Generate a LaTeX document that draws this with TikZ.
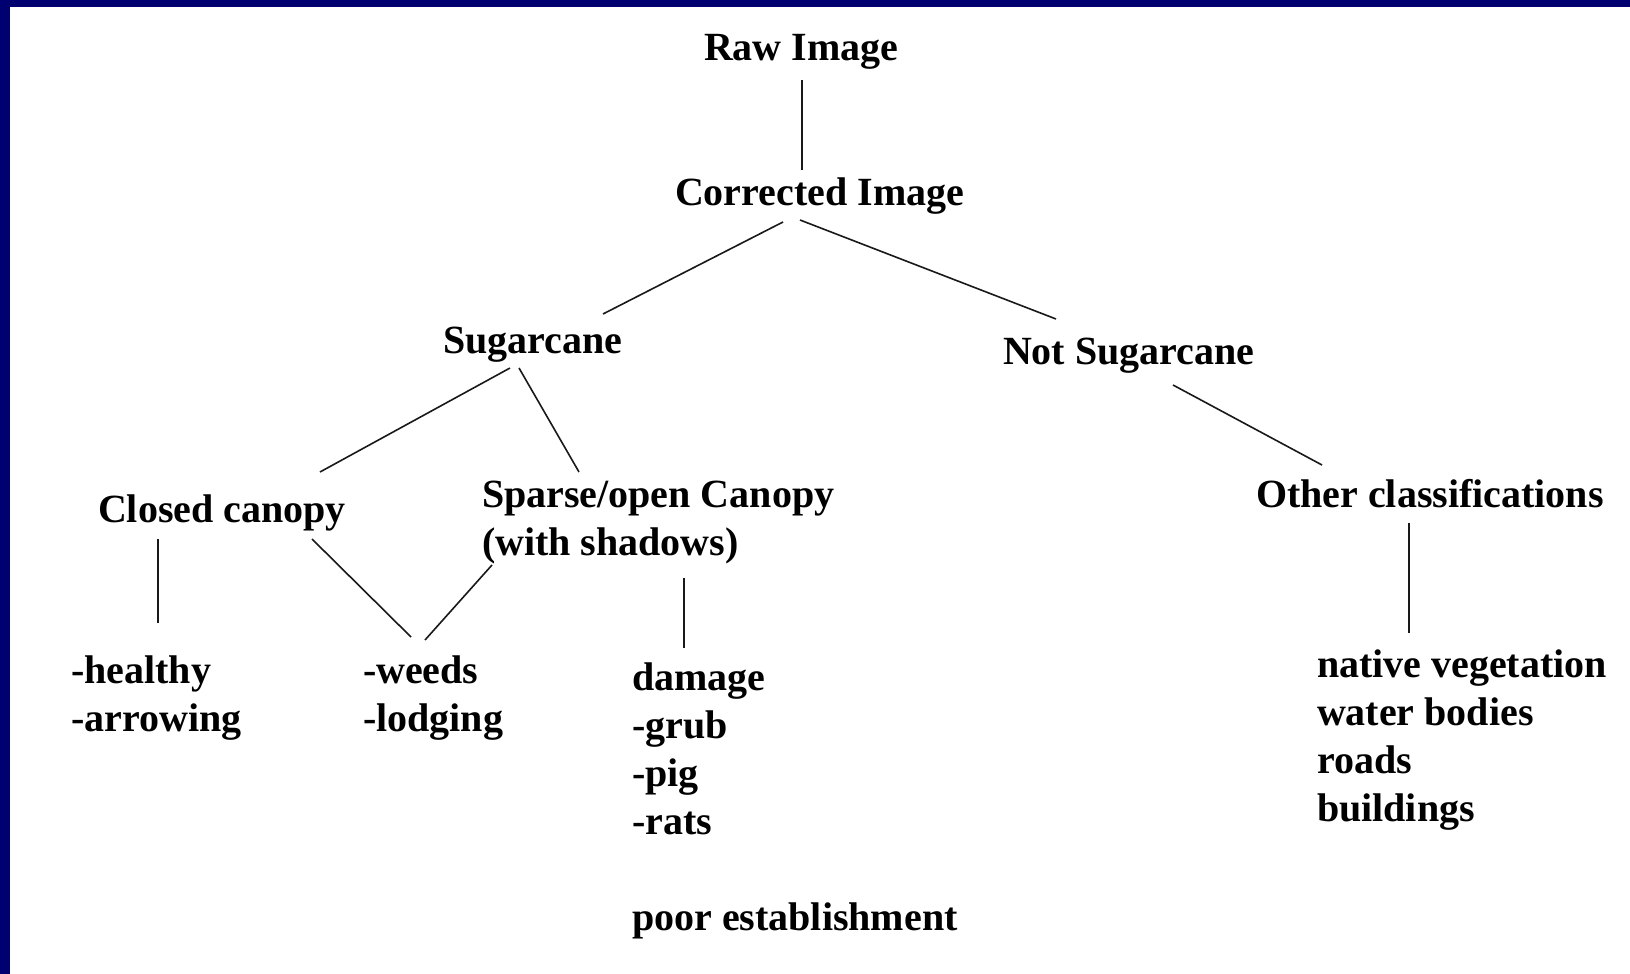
\documentclass[tikz,border=0pt]{standalone}
\usepackage{fontspec}
\setmainfont{Liberation Serif}
\usepackage{tikz}
\usetikzlibrary{positioning,calc}
\usepackage{xcolor}
\definecolor{slideframe}{RGB}{0,0,112}
\definecolor{treeline}{RGB}{25,25,25}

\begin{document}
\begin{tikzpicture}[
    x=1pt, y=-1pt,
    lbl/.style={anchor=base west, inner sep=0pt, outer sep=0pt, align=left,
                font=\fontsize{40}{48}\selectfont\bfseries},
    link/.style={treeline, line width=1.6pt}
]

\useasboundingbox (0,0) rectangle (1630,974);
\fill[white] (0,0) rectangle (1630,974);
\fill[slideframe] (0,0) rectangle (10,974);
\fill[slideframe] (0,0) rectangle (1630,7);

% multi-line labels sit on the baseline of their last line
\node[lbl] (raw) at (704,60) {Raw Image};
\node[lbl] (corr) at (675,205) {Corrected Image};

\node[lbl] (sugar) at (443,353) {Sugarcane};
\node[lbl] (notsugar) at (1003,364) {Not Sugarcane};

\node[lbl] (closed) at (98,522) {Closed canopy};
\node[lbl] (sparse) at (482,555) {Sparse/open Canopy\\(with shadows)};
\node[lbl] (other) at (1256,507) {Other classifications};

\node[lbl] (healthy) at (71,731) {-healthy\\-arrowing};
\node[lbl] (weeds) at (363,731) {-weeds\\-lodging};
\node[lbl] (damage) at (632,930) {damage\\-grub\\-pig\\-rats\\[48pt]poor establishment};
\node[lbl] (native) at (1317,821) {native vegetation\\water bodies\\roads\\buildings};

\draw[link] ([shift={(98,20)}]raw.base west) -- ([shift={(127,-35)}]corr.base west);
\draw[link] ([shift={(108,17)}]corr.base west) -- ([shift={(160,-39)}]sugar.base west);
\draw[link] ([shift={(125,15)}]corr.base west) -- ([shift={(53,-45)}]notsugar.base west);
\draw[link] ([shift={(67,15)}]sugar.base west) -- ([shift={(222,-50)}]closed.base west);
\draw[link] ([shift={(76,15)}]sugar.base west) -- ([shift={(97,-83)}]sparse.base west);
\draw[link] ([shift={(170,21)}]notsugar.base west) -- ([shift={(66,-42)}]other.base west);
\draw[link] ([shift={(60,17)}]closed.base west) -- ([shift={(87,-108)}]healthy.base west);
\draw[link] ([shift={(214,17)}]closed.base west) -- ([shift={(48,-94)}]weeds.base west);
\draw[link] ([shift={(10,10)}]sparse.base west) -- ([shift={(62,-91)}]weeds.base west);
\draw[link] ([shift={(202,23)}]sparse.base west) -- ([shift={(52,-282)}]damage.base west);
\draw[link] ([shift={(153,16)}]other.base west) -- ([shift={(92,-188)}]native.base west);

\end{tikzpicture}
\end{document}
